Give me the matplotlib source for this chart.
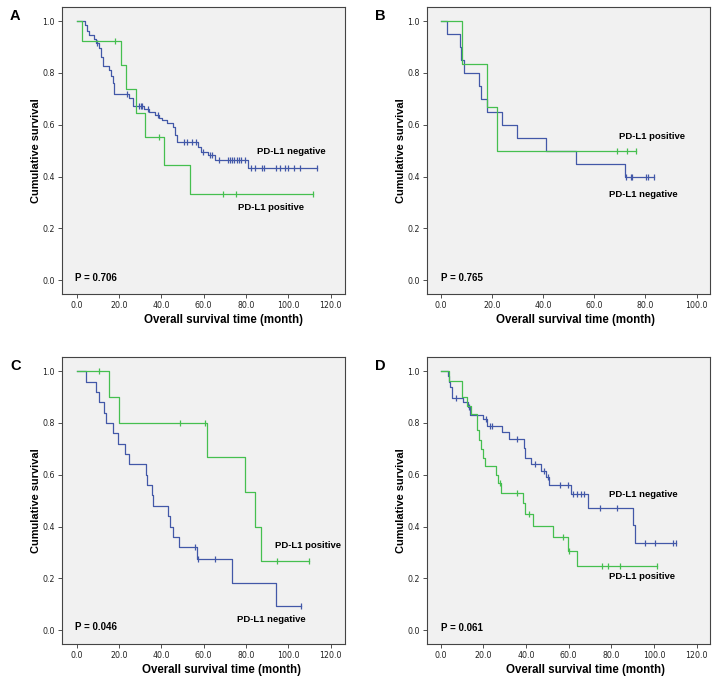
import numpy as np
import matplotlib
matplotlib.use('Agg')
import matplotlib.pyplot as plt

BLUE = '#4258a8'
GREEN = '#45bf4f'

# ---- panel A ----
a_neg_t = [3.9, 5.0, 6.0, 8.0, 9.0, 10.5, 11.5, 12.6, 15.5, 16.2, 17.0, 17.5, 24.5, 26.5,
           32.0, 34.0, 37.0, 39.0, 40.3, 42.6, 45.6, 46.4, 47.2, 57.4, 58.5, 62.2, 65.4, 81.1]
a_neg_s = [0.985, 0.962, 0.948, 0.930, 0.916, 0.895, 0.860, 0.828, 0.810, 0.790, 0.760, 0.720,
           0.705, 0.674, 0.662, 0.651, 0.638, 0.628, 0.619, 0.607, 0.593, 0.560, 0.533, 0.515,
           0.496, 0.483, 0.464, 0.432]
a_neg_c = [9.5, 24.0, 29.5, 30.5, 31.0, 33.5, 38.5, 50.5, 52.0, 54.5, 56.5, 59.5, 63.0, 64.0,
           67.0, 71.5, 72.5, 73.5, 74.5, 75.5, 76.5, 77.5, 79.5, 82.5, 84.0, 87.5, 88.5, 94.0,
           96.0, 98.5, 100.0, 102.5, 105.5, 113.5]
a_pos_t = [2.7, 20.8, 23.3, 27.9, 32.1, 41.4, 53.5]
a_pos_s = [0.923, 0.831, 0.738, 0.646, 0.554, 0.443, 0.332]
a_pos_c = [18.1, 39.1, 69.0, 75.3, 111.5]

# ---- panel B ----
b_neg_t = [2.3, 7.5, 7.8, 9.1, 15.0, 15.7, 17.9, 23.8, 29.7, 41.0, 53.0, 71.9]
b_neg_s = [0.95, 0.90, 0.85, 0.80, 0.75, 0.70, 0.65, 0.60, 0.55, 0.50, 0.45, 0.40]
b_neg_c = [72.5, 74.2, 74.7, 80.3, 81.0, 83.2]
b_pos_t = [8.2, 18.0, 21.9]
b_pos_s = [0.833, 0.667, 0.500]
b_pos_c = [69.0, 72.8, 76.4]

# ---- panel C ----
c_neg_t = [4.4, 9.1, 10.7, 13.1, 13.8, 17.3, 19.4, 23.0, 24.9, 32.6, 33.1, 35.4, 35.9,
           43.3, 44.1, 45.4, 48.3, 56.7, 73.3, 94.1]
c_neg_s = [0.96, 0.92, 0.88, 0.84, 0.80, 0.76, 0.72, 0.68, 0.64, 0.60, 0.56, 0.52, 0.48,
           0.44, 0.40, 0.36, 0.32, 0.274, 0.183, 0.091]
c_neg_c = [55.9, 57.2, 65.5, 106.0]
c_pos_t = [15.4, 20.2, 61.5, 79.3, 84.4, 87.2]
c_pos_s = [0.90, 0.80, 0.667, 0.533, 0.40, 0.267]
c_pos_c = [10.6, 48.8, 60.6, 94.5, 109.6]

# ---- panel D ----
d_neg_t = [3.3, 3.8, 4.4, 5.5, 10.4, 12.8, 13.8, 19.8, 21.6, 28.9, 32.0, 38.9, 39.4,
           42.5, 47.2, 49.5, 50.6, 61.3, 68.9, 90.1, 91.2]
d_neg_s = [0.980, 0.960, 0.940, 0.897, 0.883, 0.860, 0.831, 0.815, 0.790, 0.765, 0.738,
           0.702, 0.664, 0.640, 0.615, 0.590, 0.560, 0.526, 0.473, 0.405, 0.338]
d_neg_c = [7.4, 13.1, 21.1, 22.9, 24.2, 35.9, 44.0, 48.3, 50.2, 55.9, 59.6, 62.2, 63.8,
           65.6, 67.2, 74.5, 82.8, 95.6, 100.4, 109.0, 110.2]
d_pos_t = [3.8, 9.8, 12.5, 14.2, 16.9, 18.0, 18.7, 19.7, 20.8, 25.9, 27.0, 28.1, 38.7,
           39.5, 43.4, 52.5, 59.8, 63.8]
d_pos_s = [0.964, 0.900, 0.867, 0.833, 0.773, 0.734, 0.700, 0.664, 0.632, 0.600, 0.567,
           0.531, 0.490, 0.448, 0.403, 0.358, 0.307, 0.247]
d_pos_c = [28.0, 35.6, 41.4, 57.2, 60.3, 75.5, 78.3, 84.0, 101.5]

p_values = ['P = 0.706', 'P = 0.765', 'P = 0.046', 'P = 0.061']
panel_letters = ['A', 'B', 'C', 'D']


def km(ax, t_ev, s_ev, t_c, color):
    t_end = max(max(t_ev), max(t_c))
    x = [0.0] + list(t_ev) + [t_end]
    y = [1.0] + list(s_ev) + [s_ev[-1]]
    ax.step(x, y, where='post', color=color, lw=0.9)
    levels = np.array([1.0] + list(s_ev))
    idx = np.searchsorted(np.array(t_ev), np.array(t_c), side='right')
    ax.plot(t_c, levels[idx], ls='none', marker='|', ms=4.5, mew=0.9, color=color)


W, H = 718, 680
fig = plt.figure(figsize=(W / 100, H / 100), dpi=100)

# (left, top, right, bottom) in pixels, xlim, xticks, xlabel center x
panels = [
    ((62, 7, 345, 294), (-6.9, 126.7), np.arange(0, 121, 20), 224),
    ((427, 7, 710, 294), (-5.35, 105.2), np.arange(0, 101, 20), 576),
    ((62, 357, 345, 644), (-6.9, 126.7), np.arange(0, 121, 20), 222),
    ((427, 357, 710, 644), (-6.4, 126.2), np.arange(0, 121, 20), 585),
]

curves = [
    ((a_neg_t, a_neg_s, a_neg_c), (a_pos_t, a_pos_s, a_pos_c)),
    ((b_neg_t, b_neg_s, b_neg_c), (b_pos_t, b_pos_s, b_pos_c)),
    ((c_neg_t, c_neg_s, c_neg_c), (c_pos_t, c_pos_s, c_pos_c)),
    ((d_neg_t, d_neg_s, d_neg_c), (d_pos_t, d_pos_s, d_pos_c)),
]

# label positions (data coords): negative, positive, p-value
label_pos = [
    ((85, 0.496), (76.3, 0.281), (-0.8, 0.007)),
    ((65.6, 0.329), (69.5, 0.554), (0, 0.007)),
    ((75.9, 0.039), (93.7, 0.325), (-0.8, 0.01)),
    ((78.8, 0.522), (78.8, 0.206), (0, 0.007)),
]

bold = dict(family=['Liberation Sans', 'DejaVu Sans'], fontweight='bold')

for i, (box, xlim, xt, xlab_x) in enumerate(panels):
    l, t, r, b = box
    ax = fig.add_axes([l / W, 1 - b / H, (r - l) / W, (b - t) / H])
    ax.set_facecolor('#f1f1f1')
    neg, pos = curves[i]
    km(ax, *neg, BLUE)
    km(ax, *pos, GREEN)
    ax.set_xlim(*xlim)
    ax.set_ylim(-0.054, 1.055)
    ax.set_xticks(xt)
    ax.set_xticklabels(['%.1f' % v for v in xt])
    ax.set_yticks(np.arange(0, 1.01, 0.2))
    ax.set_yticklabels(['%.1f' % v for v in np.arange(0, 1.01, 0.2)])
    ax.tick_params(labelsize=5.7, length=3, width=0.6, pad=2, colors='#333333',
                   labelcolor='#222222')
    for s in ax.spines.values():
        s.set_color('#444444')
        s.set_linewidth(0.8)

    (nx, ny), (px, py), (qx, qy) = label_pos[i]
    ax.text(nx, ny, 'PD-L1 negative', fontsize=6.8, va='center', ha='left', **bold)
    ax.text(px, py, 'PD-L1 positive', fontsize=6.8, va='center', ha='left', **bold)
    ax.text(qx, qy, p_values[i], fontsize=7, va='center', ha='left', **bold)

    # axis titles
    fig.text((l - 26) / W, 1 - (t + b) / 2 / H, 'Cumulative survival', rotation=90,
             ha='center', va='center', fontsize=7.9, **bold)
    fig.text(xlab_x / W, 1 - (b + 26) / H, 'Overall survival time (month)',
             ha='center', va='center', fontsize=8.3, **bold)
    fig.text((l - 52) / W, 1 - (t + 9) / H, panel_letters[i], ha='left', va='center',
             fontsize=10.5, **bold)

plt.savefig('out.png', dpi=100)
